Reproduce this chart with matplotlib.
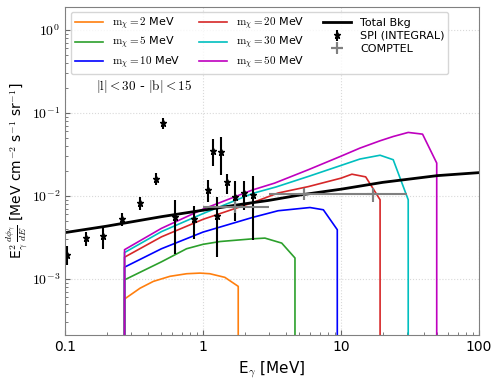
import numpy as np
import matplotlib
matplotlib.use("Agg")
import matplotlib.pyplot as plt
from matplotlib.ticker import FuncFormatter, FixedLocator

plt.rcParams['font.family'] = ['DejaVu Sans']
plt.rcParams['mathtext.fontset'] = 'cm'

# =========================
# DATA
# =========================
# dark matter signal curves, E [MeV] and E^2 dphi/dE
masses = [2, 5, 10, 20, 30, 50]
dm_colors = ['tab:orange', 'tab:green', 'blue', 'tab:red', 'c', 'm']

e_m2 = [0.27, 0.27, 0.35, 0.437, 0.576, 0.762, 0.95, 1.12, 1.44, 1.80, 1.80]
f_m2 = [1e-5, 5.7e-4, 7.7e-4, 9.3e-4, 1.07e-3, 1.15e-3, 1.17e-3, 1.15e-3, 1.04e-3, 8.1e-4, 1e-5]

e_m5 = [0.27, 0.27, 0.5, 0.76, 1.0, 1.33, 2.3, 2.81, 3.72, 4.64, 4.64]
f_m5 = [1e-5, 9.7e-4, 1.6e-3, 2.3e-3, 2.6e-3, 2.81e-3, 3.03e-3, 3.09e-3, 2.69e-3, 1.78e-3, 1e-5]

e_m10 = [0.27, 0.27, 0.5, 1.0, 2.3, 3.5, 5.96, 7.45, 9.4, 9.4]
f_m10 = [1e-5, 1.38e-3, 2.3e-3, 3.65e-3, 5.5e-3, 6.6e-3, 7.22e-3, 6.78e-3, 3.9e-3, 1e-5]

e_m20 = [0.27, 0.27, 0.5, 1.0, 2.3, 3.5, 5.8, 10, 12, 15.1, 19.2, 19.2]
f_m20 = [1e-5, 1.82e-3, 3.2e-3, 5.2e-3, 8.3e-3, 1.08e-2, 1.29e-2, 1.63e-2, 1.82e-2, 1.69e-2, 8.95e-3, 1e-5]

e_m30 = [0.27, 0.27, 0.5, 1.0, 2.3, 3.4, 5.8, 10, 13.7, 19.2, 23.9, 30.7, 30.7]
f_m30 = [1e-5, 2.07e-3, 3.7e-3, 6.1e-3, 1.07e-2, 1.28e-2, 1.71e-2, 2.32e-2, 2.77e-2, 3.08e-2, 2.72e-2, 8.95e-3, 1e-5]

e_m50 = [0.27, 0.27, 0.5, 1.0, 2.3, 3.3, 5.8, 10, 13.7, 19.2, 23.9, 30.7, 39, 49.4, 49.4]
f_m50 = [1e-5, 2.24e-3, 4.05e-3, 6.9e-3, 1.18e-2, 1.42e-2, 2.06e-2, 3.0e-2, 3.75e-2, 4.6e-2, 5.18e-2, 5.8e-2, 5.53e-2, 2.48e-2, 1e-5]

# total background
e_bkg = [0.1, 0.2, 0.5, 1, 2, 3, 5, 10, 20, 50, 100]
f_bkg = [3.6e-3, 4.3e-3, 5.6e-3, 6.7e-3, 8.0e-3, 8.8e-3, 1.02e-2, 1.2e-2, 1.45e-2, 1.75e-2, 1.9e-2]

# SPI (INTEGRAL)
spi_e = [0.104, 0.142, 0.19, 0.259, 0.35, 0.454, 0.513, 0.626, 0.86, 1.08,
         1.175, 1.256, 1.34, 1.5, 1.70, 1.99, 2.29]
spi_f = [1.94e-3, 3.1e-3, 3.3e-3, 5.3e-3, 8.2e-3, 1.6e-2, 7.5e-2, 5.5e-3, 5.25e-3, 1.18e-2,
         3.5e-2, 5.7e-3, 3.4e-2, 1.45e-2, 9.8e-3, 1.08e-2, 1.01e-2]
spi_lo = [1.48e-3, 2.45e-3, 2.3e-3, 4.35e-3, 6.78e-3, 1.33e-2, 6.4e-2, 2.0e-3, 3.03e-3, 8.47e-3,
          2.26e-2, 1.84e-3, 1.79e-2, 1.05e-2, 4.9e-3, 6.78e-3, 2.95e-3]
spi_hi = [2.45e-3, 3.71e-3, 4.11e-3, 6.24e-3, 9.8e-3, 1.89e-2, 8.7e-2, 8.95e-3, 7.43e-3, 1.56e-2,
          4.86e-2, 9.55e-3, 5.1e-2, 1.84e-2, 1.49e-2, 1.49e-2, 1.71e-2]

# COMPTEL
comptel_e = [1.7, 5.4, 17.0]
comptel_elo = [1.0, 3.0, 10.0]
comptel_ehi = [3.0, 10.0, 30.0]
comptel_f = [7.3e-3, 1.05e-2, 1.05e-2]
comptel_flo = [6.4e-3, 8.95e-3, 8.5e-3]
comptel_fhi = [8.7e-3, 1.25e-2, 1.25e-2]

dm_e = [e_m2, e_m5, e_m10, e_m20, e_m30, e_m50]
dm_f = [f_m2, f_m5, f_m10, f_m20, f_m30, f_m50]

# =========================
# PLOT
# =========================
fig = plt.figure(figsize=(4.94, 3.84), dpi=100)
ax = fig.add_axes([0.1316, 0.1276, 0.838, 0.855])

for m, c, e, f in zip(masses, dm_colors, dm_e, dm_f):
    ax.plot(e, f, color=c, lw=1.2, label=r'$\mathrm{m}_\chi = %d$ MeV' % m)

ax.plot(e_bkg, f_bkg, color='k', lw=2, label='Total Bkg')

spi_f_a = np.array(spi_f)
spi_yerr = [spi_f_a - np.array(spi_lo), np.array(spi_hi) - spi_f_a]
ax.errorbar(spi_e, spi_f, yerr=spi_yerr, fmt='*', color='k', ms=5,
            elinewidth=1.5, capsize=0, label='SPI (INTEGRAL)')

ce = np.array(comptel_e)
cf = np.array(comptel_f)
ax.errorbar(comptel_e, comptel_f,
            xerr=[ce - np.array(comptel_elo), np.array(comptel_ehi) - ce],
            yerr=[cf - np.array(comptel_flo), np.array(comptel_fhi) - cf],
            fmt='+', color='gray', ms=8, mew=1.5, elinewidth=1.5, capsize=0,
            label='COMPTEL')

ax.set_xscale('log')
ax.set_yscale('log')
ax.set_xlim(0.1, 100)
ax.set_ylim(2.1e-4, 1.9)

ax.xaxis.set_major_locator(FixedLocator([0.1, 1, 10, 100]))
ax.xaxis.set_major_formatter(FuncFormatter(lambda v, p: '%g' % v))
ax.yaxis.set_major_formatter(FuncFormatter(lambda v, p: r'$10^{%d}$' % round(np.log10(v))))

ax.tick_params(which='both', direction='in', colors='0.4', labelcolor='k', labelsize=10)
for s in ax.spines.values():
    s.set_color('0.5')
ax.grid(True, which='major', color='0.85', ls=':', lw=0.8)

ax.set_xlabel(r'E$_\gamma$ [MeV]', fontsize=11)
ax.set_ylabel(r'E$_\gamma^2\,\frac{d\phi_\gamma}{dE}$ [MeV cm$^{-2}$ s$^{-1}$ sr$^{-1}$]',
              fontsize=10, labelpad=1)

ax.legend(loc='upper left', ncol=3, fontsize=8, framealpha=0.8,
          labelspacing=0.25, columnspacing=1.6, handlelength=2.6,
          borderpad=0.3, borderaxespad=0, bbox_to_anchor=(0.015, 0.983))
ax.text(0.075, 0.756, r'$|\mathrm{l}| < 30$ - $|\mathrm{b}| < 15$', transform=ax.transAxes,
        fontsize=9.5, va='center', color='k')

fig.savefig('out.png', dpi=100)
